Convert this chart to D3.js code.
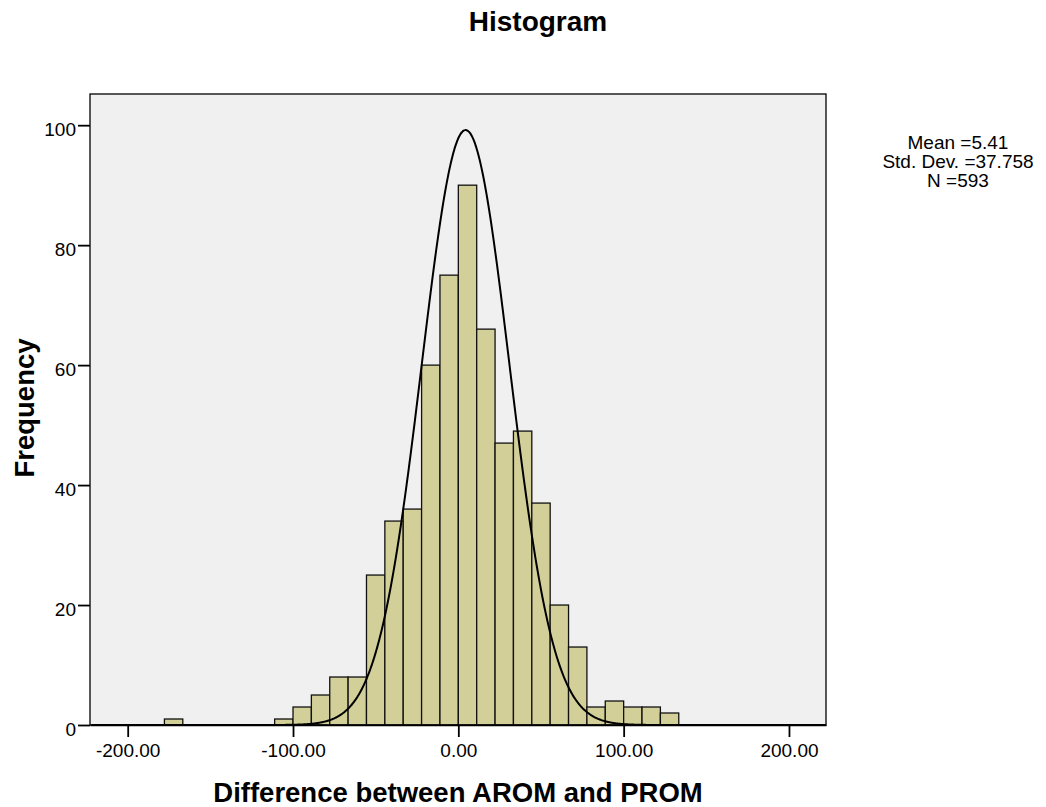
<!DOCTYPE html>
<html>
<head>
<meta charset="utf-8">
<script src="https://cdn.jsdelivr.net/npm/d3@7"></script>
<style>
  html, body { margin: 0; padding: 0; background: #ffffff; }
  svg { display: block; font-family: "Liberation Sans", Arial, sans-serif; }
</style>
</head>
<body>
<svg id="chart" width="1046" height="807"></svg>
<script>
// ---- Data ----
const binWidth = 100 / 9;
const binStartIndex = [-16, -10, -9, -8, -7, -6, -5, -4, -3, -2, -1, 0, 1, 2, 3, 4, 5, 6, 7, 8, 9, 10, 11];
const frequencies   = [1, 1, 3, 5, 8, 8, 25, 34, 36, 60, 75, 90, 66, 47, 49, 37, 20, 13, 3, 4, 3, 3, 2];
const xTickValues = [-200, -100, 0, 100, 200];
const yTickValues = [0, 20, 40, 60, 80, 100];
const statsLines = ["Mean =5.41", "Std. Dev. =37.758", "N =593"];
const sampleN = 593;
const curveMean = 4.4;   // fitted to the drawn curve
const curveSd = 26.5;    // fitted to the drawn curve

// ---- Layout ----
const svg = d3.select("#chart");
const plot = { left: 90, right: 826, top: 94, bottom: 725 };

const x = d3.scaleLinear().domain([-222.8, 222.4]).range([plot.left, plot.right]);
const y = d3.scaleLinear().domain([0, 105.2]).range([plot.bottom, plot.top]);

// Title
svg.append("text")
  .attr("x", 538).attr("y", 31)
  .attr("text-anchor", "middle")
  .attr("font-size", 28).attr("font-weight", "bold")
  .text("Histogram");

// Plot background
svg.append("rect")
  .attr("x", plot.left).attr("y", plot.top)
  .attr("width", plot.right - plot.left).attr("height", plot.bottom - plot.top)
  .attr("fill", "#f0f0f0");

// Bars
const bins = binStartIndex.map((k, i) => ({ x0: k * binWidth, x1: (k + 1) * binWidth, v: frequencies[i] }));
svg.append("g").selectAll("rect").data(bins).join("rect")
  .attr("x", d => x(d.x0))
  .attr("y", d => y(d.v))
  .attr("width", d => x(d.x1) - x(d.x0))
  .attr("height", d => y(0) - y(d.v))
  .attr("fill", "#d3cf99")
  .attr("stroke", "#111")
  .attr("stroke-width", 1.3);

// Normal curve
const pdf = t => Math.exp(-0.5 * ((t - curveMean) / curveSd) ** 2) / (curveSd * Math.sqrt(2 * Math.PI));
const curvePts = d3.range(-222, 222.5, 0.5).map(t => [t, sampleN * binWidth * pdf(t)]);
svg.append("path")
  .datum(curvePts)
  .attr("fill", "none")
  .attr("stroke", "#000")
  .attr("stroke-width", 2)
  .attr("d", d3.line().x(d => x(d[0])).y(d => y(d[1])).curve(d3.curveBasis));

// Frame
svg.append("rect")
  .attr("x", plot.left).attr("y", plot.top)
  .attr("width", plot.right - plot.left).attr("height", plot.bottom - plot.top)
  .attr("fill", "none").attr("stroke", "#000").attr("stroke-width", 1.3);

// Axes
const fmt = d => d3.format(".2f")(d).replace("\u2212", "-");
const xAxis = d3.axisBottom(x).tickValues(xTickValues).tickFormat(fmt).tickSizeInner(12).tickSizeOuter(0).tickPadding(7);
const gx = svg.append("g").attr("transform", `translate(0,${plot.bottom})`).call(xAxis);
gx.select(".domain").attr("stroke", "#000").attr("stroke-width", 1.5);
gx.selectAll(".tick line").attr("stroke", "#000").attr("stroke-width", 1.8);
gx.selectAll(".tick text").attr("font-size", 19).attr("fill", "#000").attr("font-family", "Liberation Sans, Arial, sans-serif");

const yAxis = d3.axisLeft(y).tickValues(yTickValues).tickSizeInner(12).tickSizeOuter(0).tickPadding(2);
const gy = svg.append("g").attr("transform", `translate(${plot.left},0)`).call(yAxis);
gy.select(".domain").remove();
gy.selectAll(".tick line").attr("stroke", "#000").attr("stroke-width", 1.8);
gy.selectAll(".tick text").attr("font-size", 19).attr("dy", "0.55em").attr("fill", "#000").attr("font-family", "Liberation Sans, Arial, sans-serif");

// Axis titles
svg.append("text")
  .attr("x", 458).attr("y", 802)
  .attr("text-anchor", "middle")
  .attr("font-size", 27.5).attr("font-weight", "bold")
  .text("Difference between AROM and PROM");

svg.append("text")
  .attr("transform", "translate(34,408) rotate(-90)")
  .attr("text-anchor", "middle")
  .attr("font-size", 27.5).attr("font-weight", "bold")
  .text("Frequency");

// Stats
svg.append("g").selectAll("text").data(statsLines).join("text")
  .attr("x", 958)
  .attr("y", (d, i) => 149 + i * 19)
  .attr("text-anchor", "middle")
  .attr("font-size", 19)
  .text(d => d);
</script>
</body>
</html>
